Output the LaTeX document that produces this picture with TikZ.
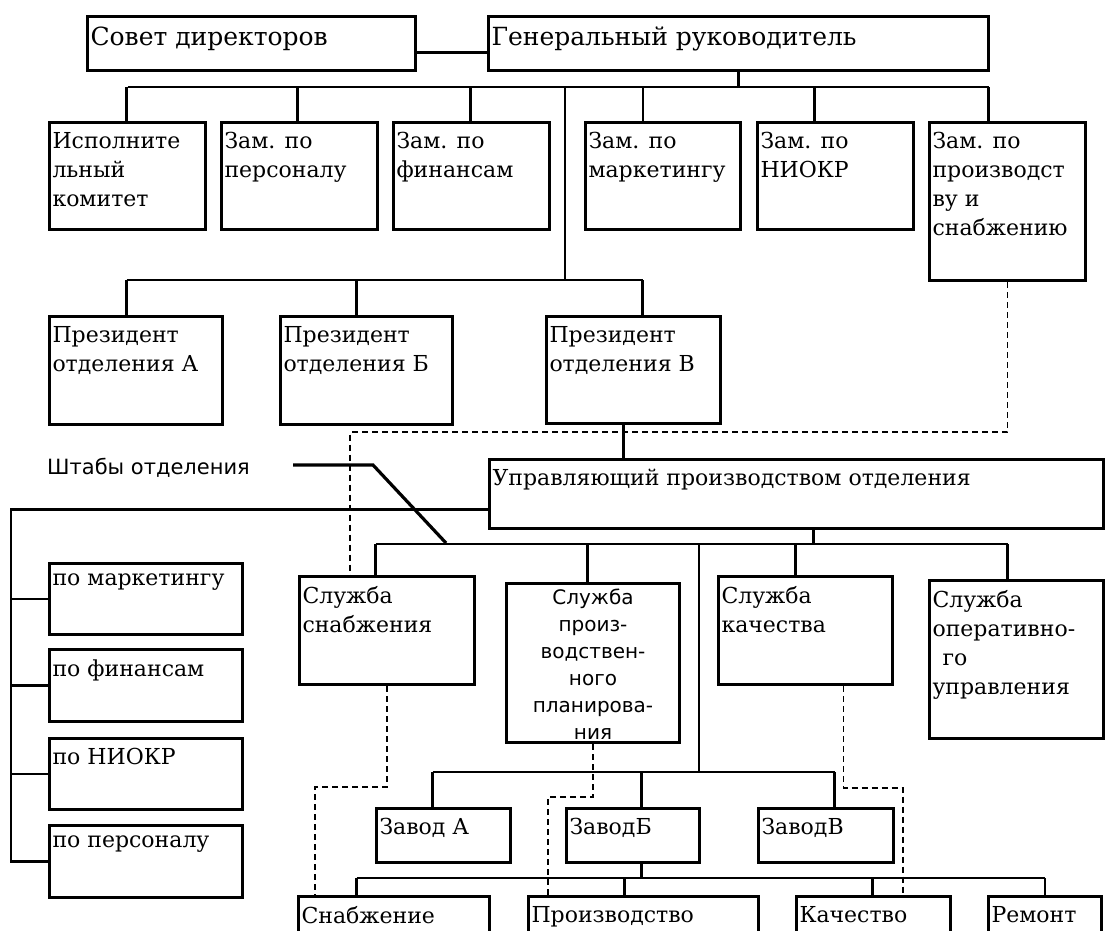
\documentclass[tikz,border=0pt]{standalone}
\usepackage{fontspec}
\setmainfont{DejaVu Serif}
\newfontfamily\labelsans{DejaVu Sans}
\usetikzlibrary{
	positioning
}
\tikzset{
	orgbox/.style={draw, line width=3pt, anchor=north west, inner xsep=3pt, inner ysep=10pt, font=\fontsize{22}{29}\selectfont},
	headbox/.style={orgbox, font=\fontsize{25}{30}\selectfont},
	orgedge/.style={line width=2.8pt},
	dashedge/.style={line width=1.8pt, dash pattern=on 6pt off 4pt}
}
\newcommand{\cell}[3]{\parbox[t][\dimexpr#2pt-20pt\relax][t]{\dimexpr#1pt-6pt\relax}{\raggedright #3}}

\begin{document}
\begin{tikzpicture}[x=1pt, y=-1pt]
	\useasboundingbox (0,0) rectangle (1114,931);
	\clip (0,0) rectangle (1114,931);

	\node[headbox] (sovet) at (86,15) {\cell{328}{54}{Совет директоров}};
	\node[headbox] (gen) at (487,15) {\cell{500}{54}{Генеральный руководитель}};

	\node[orgbox] (isp) at (48,121) {\cell{156}{107}{Исполните\\льный\\комитет}};
	\node[orgbox] (zpers) at (220,121) {\cell{156}{107}{Зам. по\\персоналу}};
	\node[orgbox] (zfin) at (392,121) {\cell{156}{107}{Зам. по\\финансам}};
	\node[orgbox] (zmark) at (584,121) {\cell{155}{107}{Зам. по\\маркетингу}};
	\node[orgbox] (zniokr) at (756,121) {\cell{156}{107}{Зам. по\\НИОКР}};
	\node[orgbox] (zprod) at (928,121) {\cell{156}{158}{Зам. по\\производст\\ву и\\снабжению}};

	\node[orgbox] (presA) at (48,315) {\cell{173}{108}{Президент\\отделения А}};
	\node[orgbox] (presB) at (279,315) {\cell{172}{108}{Президент\\отделения Б}};
	\node[orgbox] (presV) at (545,315) {\cell{174}{107}{Президент\\отделения В}};

	\node[orgbox] (upr) at (488,458) {\cell{614}{69}{Управляющий производством отделения}};
	\node[anchor=west, inner sep=0pt, font=\labelsans\fontsize{21}{24}\selectfont] (staff) at (47,468) {Штабы отделения};

	\node[orgbox] (smark) at (48,562) {\cell{193}{71}{по маркетингу}};
	\node[orgbox] (sfin) at (48,648) {\cell{193}{72}{по финансам}};
	\node[orgbox] (sniokr) at (48,737) {\cell{193}{71}{по НИОКР}};
	\node[orgbox] (spers) at (48,824) {\cell{193}{72}{по персоналу}};

	\node[orgbox] (ssnab) at (298,575) {\cell{175}{108}{Служба\\снабжения}};
	\node[orgbox, inner ysep=5pt, font=\labelsans\fontsize{20}{27}\selectfont] (splan) at (505,582)
		{\parbox[t][149pt][t]{167pt}{\centering Служба\\произ-\\водствен-\\ного\\планирова-\\ния}};
	\node[orgbox] (skach) at (717,575) {\cell{174}{108}{Служба\\качества}};
	\node[orgbox] (soper) at (928,579) {\cell{174}{158}{Служба\\оперативно-\\\hspace*{10pt}го\\управления}};

	\node[orgbox] (zavA) at (375,807) {\cell{134}{54}{Завод А}};
	\node[orgbox] (zavB) at (565,807) {\cell{133}{54}{ЗаводБ}};
	\node[orgbox] (zavV) at (757,807) {\cell{135}{54}{ЗаводВ}};

	\node[orgbox] (bsnab) at (297,895) {\cell{191}{50}{Снабжение}};
	\node[orgbox] (bproizv) at (527,895) {\cell{230}{50}{Производство}};
	\node[orgbox] (bkach) at (795,895) {\cell{154}{50}{Качество}};
	\node[orgbox] (brem) at (987,895) {\cell{113}{50}{Ремонт}};

	\coordinate (topbus) at (0,87);
	\coordinate (trunk) at (565,87);
	\coordinate (divbus) at (0,280);
	\coordinate (dashY) at (0,432);
	\coordinate (leftbus) at (11,508);
	\coordinate (staffstart) at (293,465);
	\coordinate (staffknee) at (373,465);
	\coordinate (staffend) at (446,543);
	\coordinate (servbus) at (0,544);
	\coordinate (trunkB) at (699,544);
	\coordinate (plantbus) at (0,772);
	\coordinate (unitbus) at (0,878);
	\coordinate (dotA) at (0,787);
	\coordinate (dotB) at (0,797);
	\coordinate (dotC) at (0,788);

	\draw[orgedge] ([yshift=-9pt]sovet.east) -- ([yshift=-9pt]gen.west);
	\draw[orgedge] (gen.south) -- (gen.south |- topbus);
	\draw[orgedge] (isp.north |- topbus) -- ([xshift=-19pt]zprod.north |- topbus);
	\foreach \n/\dx in {isp/-1, zpers/-2, zfin/-1, zmark/-20, zniokr/-21, zprod/-19}
		\draw[orgedge] ([xshift=\dx pt]\n.north) -- ([xshift=\dx pt]\n.north |- topbus);

	\draw[orgedge] (trunk) -- (trunk |- divbus);
	\draw[orgedge] ([xshift=-9.5pt]presA.north |- divbus) -- ([xshift=9pt]presV.north |- divbus);
	\foreach \n/\dx in {presA/-9.5, presB/-10, presV/9}
		\draw[orgedge] ([xshift=\dx pt]\n.north) -- ([xshift=\dx pt]\n.north |- divbus);
	\draw[orgedge] ([xshift=-10pt]presV.south) -- ([xshift=-10pt]presV.south |- upr.north);

	\draw[dashedge] (zprod.south) -- (zprod.south |- dashY) -| ([xshift=52pt]ssnab.north west);

	\draw[orgedge, line width=3.2pt] (staffstart) -- (staffknee) -- (staffend);
	\draw[orgedge] ([yshift=-15.5pt]upr.west) -| (leftbus |- spers.west) -- (spers.west);
	\foreach \n in {smark, sfin, sniokr}
		\draw[orgedge] (\n.west) -- (\n.west -| leftbus);

	\draw[orgedge] ([xshift=17pt]upr.south) -- ([xshift=17pt]upr.south |- servbus);
	\draw[orgedge] ([xshift=-11.5pt]ssnab.north |- servbus) -- ([xshift=-9pt]soper.north |- servbus);
	\foreach \n/\dx in {ssnab/-11.5, splan/-5.5, skach/-10, soper/-9}
		\draw[orgedge] ([xshift=\dx pt]\n.north) -- ([xshift=\dx pt]\n.north |- servbus);

	\draw[orgedge] (trunkB) -- (trunkB |- plantbus);
	\draw[orgedge] ([xshift=-11pt]zavA.north |- plantbus) -- ([xshift=8.5pt]zavV.north |- plantbus);
	\foreach \n/\dx in {zavA/-11, zavB/8.5, zavV/8.5}
		\draw[orgedge] ([xshift=\dx pt]\n.north) -- ([xshift=\dx pt]\n.north |- plantbus);

	\draw[orgedge] ([xshift=8.5pt]zavB.south) -- ([xshift=8.5pt]zavB.south |- unitbus);
	\draw[orgedge] ([xshift=-37.5pt]bsnab.north |- unitbus) -- (brem.north |- unitbus);
	\foreach \n/\dx in {bsnab/-37.5, bproizv/-19, bkach/-1, brem/0}
		\draw[orgedge] ([xshift=\dx pt]\n.north) -- ([xshift=\dx pt]\n.north |- unitbus);

	\draw[dashedge] (ssnab.south) -- (ssnab.south |- dotA) -| ([xshift=18pt]bsnab.north west);
	\draw[dashedge] (splan.south) -- (splan.south |- dotB) -| ([xshift=21pt]bproizv.north west);
	\draw[dashedge] ([xshift=38pt]skach.south) -- ([xshift=38pt]skach.south |- dotC) -| ([xshift=108pt]bkach.north west);
\end{tikzpicture}
\end{document}
